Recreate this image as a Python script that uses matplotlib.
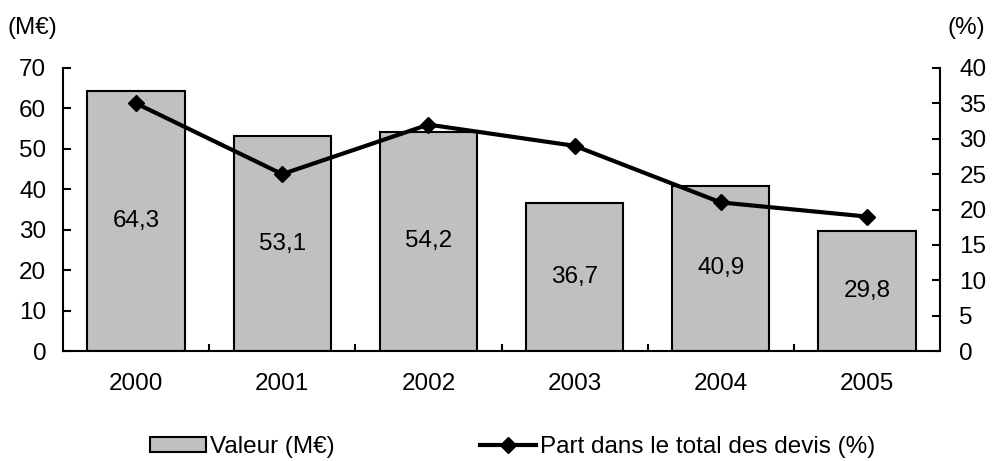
import matplotlib
matplotlib.use("Agg")
import matplotlib.pyplot as plt
import numpy as np

years = ["2000", "2001", "2002", "2003", "2004", "2005"]
valeur = [64.3, 53.1, 54.2, 36.7, 40.9, 29.8]
part = [35, 25, 32, 29, 21, 19]
labels = ["64,3", "53,1", "54,2", "36,7", "40,9", "29,8"]

plt.rcParams['font.family'] = ['Liberation Sans', 'DejaVu Sans']
fs = 17.5

fig = plt.figure(figsize=(9.92, 4.61), dpi=100)
ax = fig.add_axes([0.0635, 0.2386, 0.8841, 0.6139])
x = np.arange(len(years))
bars = ax.bar(x, valeur, width=0.665, color="#c0c0c0", edgecolor="black", linewidth=1.5,
              label="Valeur (M€)", zorder=2)
for xi, v, lab in zip(x, valeur, labels):
    ax.text(xi, v / 2, lab, ha="center", va="center", fontsize=fs, zorder=3)

ax.set_xlim(-0.5, len(years) - 0.5)
ax.set_ylim(0, 70)
ax.set_yticks(range(0, 71, 10))
ax.tick_params(axis="y", direction="in", length=6, width=1.5, labelsize=fs, pad=12)
ax.set_xticks(x)
ax.set_xticklabels(years, fontsize=fs)
ax.tick_params(axis="x", which="major", length=0, pad=16)
ax.set_xticks(np.arange(0.5, len(years) - 0.5, 1), minor=True)
ax.tick_params(axis="x", which="minor", direction="in", length=5, width=1.5)
ax.spines["top"].set_visible(False)
ax.spines["right"].set_visible(False)
for s in ["left", "bottom"]:
    ax.spines[s].set_linewidth(1.5)

ax2 = ax.twinx()
line, = ax2.plot(x, part, color="black", linewidth=3, marker="D", markersize=8,
                 label="Part dans le total des devis (%)", zorder=4)
ax2.set_ylim(0, 40)
ax2.set_yticks(range(0, 41, 5))
ax2.tick_params(axis="y", direction="in", length=6, width=1.5, labelsize=fs, pad=14)
ax2.spines["top"].set_visible(False)
ax2.spines["left"].set_visible(False)
ax2.spines["bottom"].set_visible(False)
ax2.spines["right"].set_linewidth(1.5)

fig.text(0.008, 0.94, "(M€)", fontsize=fs, ha="left", va="center")
fig.text(0.993, 0.94, "(%)", fontsize=fs, ha="right", va="center")

fig.legend([bars, line], ["Valeur (M€)", "Part dans le total des devis (%)"],
           loc="center", bbox_to_anchor=(0.517, 0.03), ncol=2, frameon=False,
           fontsize=fs, handlelength=2.3, handleheight=0.6, handletextpad=0.16,
           columnspacing=6.0, borderpad=0.1)

fig.savefig("out.png", dpi=100)
